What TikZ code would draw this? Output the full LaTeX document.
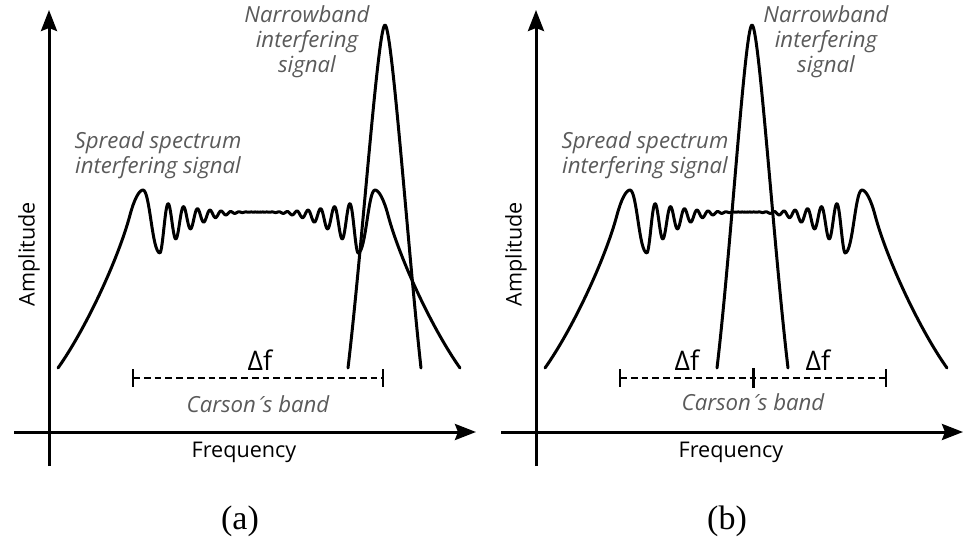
\documentclass[tikz,border=0pt]{standalone}
\usepackage{fontspec}
\setmainfont{Open Sans}
\newfontfamily\captionfont{Liberation Serif}
\newfontfamily\accentfont{DejaVu Sans}
\usetikzlibrary{arrows.meta}
\definecolor{grisNota}{HTML}{5A5A5A}
\newcommand{\acuteMark}{{\accentfont\itshape\fontsize{10}{12}\selectfont\kern-0.05em´\kern-0.1em}}

\begin{document}
\begin{tikzpicture}[
        x=0.5pt, y=-0.5pt,
        axis/.style={line width=1.5pt, -{Stealth[length=10.5pt, width=8pt, inset=1.5pt]}},
        curve/.style={line width=1.5pt, line cap=round, line join=round},
        band/.style={line width=1.2pt, dash pattern=on 3.4pt off 2pt},
        bandtick/.style={line width=1.1pt},
        note/.style={font=\fontsize{11.1}{12.6}\selectfont\itshape, text=grisNota, align=center, inner sep=0pt},
        axislabel/.style={font=\fontsize{10.8}{12.5}\selectfont, inner sep=0pt},
        deltalabel/.style={font=\fontsize{13.5}{15}\selectfont, inner sep=0pt},
        caption/.style={font=\captionfont\fontsize{17}{19}\selectfont, inner sep=0pt}
    ]
        \useasboundingbox (0,0) rectangle (975,540);

        % both panels: axes and spread spectrum
        \foreach \dx/\pnl in {0/a, 487/b} {
            \begin{scope}[shift={(\dx,0)}]
                \coordinate (xs-\pnl) at (14,432);
                \coordinate (xe-\pnl) at (476,432);
                \coordinate (ys-\pnl) at (49,466);
                \coordinate (ye-\pnl) at (49,10);
                \draw[axis] (xs-\pnl) -- (xe-\pnl);
                \draw[axis] (ys-\pnl) -- (ye-\pnl);

                \node[axislabel] (freq-\pnl) at (244,452) {Frequency};
                \node[axislabel, rotate=90] (amp-\pnl) at (29,254) {Amplitude};
                \node[caption] (cap-\pnl) at (240,521) {(\pnl)};
                \node[note] (spread-\pnl) at (158,155) {Spread spectrum\\interfering signal};

                \draw[curve] (58,368) .. controls (85,330) and (118,260) .. (130,215)
                    .. controls (134,200) and (139,190) .. (143,190)
                    .. controls (150,190) and (152,253) .. (160,253)
                    -- plot[domain=-99:99, samples=400, variable=\u]
                        ({259+\u}, {212+41*(abs(\u)/99)^2.4*(0.375+0.625*cos(427*(sqrt(abs(\u))-sqrt(99))))})
                    -- (358,253) .. controls (366,253) and (368,190) .. (375,190)
                    .. controls (379,190) and (384,200) .. (388,215)
                    .. controls (400,260) and (433,330) .. (460,368);
            \end{scope}
        }

        % (a) narrowband off centre
        \draw[curve] (348,368) .. controls (362,250) and (378,25) .. (385,25)
            .. controls (392,25) and (408,250) .. (421,368);
        \node[note] (nb-a) at (307,42) {Narrowband\\interfering\\signal};
        \coordinate (bl-a) at (133,378);
        \coordinate (br-a) at (383,378);
        \draw[band] (bl-a) -- (br-a);
        \draw[bandtick] (bl-a) ++(0,-9) -- ++(0,18);
        \draw[bandtick] (br-a) ++(0,-9) -- ++(0,18);
        \node[deltalabel] (df-a) at (260,360) {Δf};
        \node[note] (carson-a) at (258,404) {Carson\acuteMark s band};

        % (b) narrowband centred
        \draw[curve] (717,368) .. controls (731,250) and (745,25) .. (752,25)
            .. controls (759,25) and (774,250) .. (788,368);
        \node[note] (nb-b) at (826,42) {Narrowband\\interfering\\signal};
        \coordinate (bl-b) at (620,378);
        \coordinate (bm-b) at (753,378);
        \coordinate (br-b) at (886,378);
        \draw[band] (bl-b) -- (br-b);
        \draw[bandtick] (bl-b) ++(0,-9) -- ++(0,18);
        \draw[bandtick, line width=1.5pt] (bm-b) ++(0,-10) -- ++(0,20);
        \draw[bandtick] (br-b) ++(0,-9) -- ++(0,18);
        \node[deltalabel] (df1-b) at (687,360) {Δf};
        \node[deltalabel] (df2-b) at (818,360) {Δf};
        \node[note] (carson-b) at (753,402) {Carson\acuteMark s band};
\end{tikzpicture}
\end{document}
